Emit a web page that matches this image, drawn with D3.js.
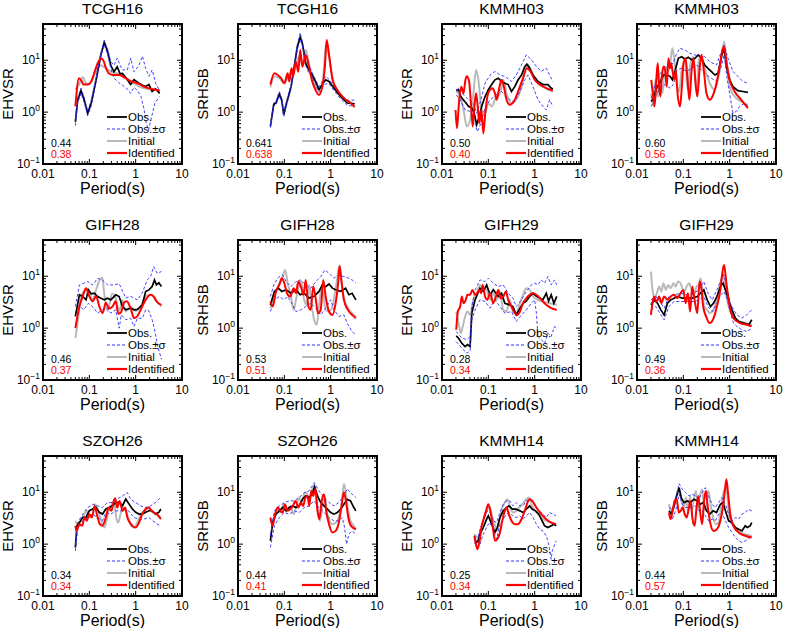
<!DOCTYPE html>
<html><head><meta charset="utf-8">
<script src="https://cdn.jsdelivr.net/npm/d3@7"></script>
<style>
body{margin:0;background:#fff}
svg{display:block}
text{font-family:"Liberation Sans",Arial,Helvetica,sans-serif;fill:#000}
</style>
</head><body>
<svg id="chart" width="785" height="628"></svg>
<script>
// ---------------- DATA ----------------
const stations = ["TCGH16","TCGH16","KMMH03","KMMH03","GIFH28","GIFH28","GIFH29","GIFH29","SZOH26","SZOH26","KMMH14","KMMH14"];
const ratioTypes = ["EHVSR","SRHSB","EHVSR","SRHSB","EHVSR","SRHSB","EHVSR","SRHSB","EHVSR","SRHSB","EHVSR","SRHSB"];
const misfitInitial = ["0.44","0.641","0.50","0.60","0.46","0.53","0.28","0.49","0.34","0.44","0.25","0.44"];
const misfitIdentified = ["0.38","0.638","0.40","0.56","0.37","0.51","0.34","0.36","0.34","0.41","0.34","0.57"];
const legendLabels = ["Obs.","Obs.±σ","Initial","Identified"];
const xTickValues = [0.01,0.1,1,10];
const xTickLabels = ["0.01","0.1","1","10"];
const yTickValues = [0.1,1,10];
const yTickExponents = ["−1","0","1"];
const xDomain = [0.01,10];
const yDomain = [0.1,50];

// Panel 1: TCGH16 EHVSR  [period(s), ratio]
const p1Obs = [[0.05,0.65],[0.056,1.7],[0.066,2.6],[0.078,1.7],[0.092,0.95],[0.11,1.5],[0.14,4.2],[0.178,13],[0.21,22],[0.247,15],[0.29,8],[0.34,6],[0.4,7.5],[0.46,5.5],[0.52,5.6],[0.66,4.2],[0.78,3.4],[0.92,4.2],[1.18,3.6],[1.4,3.3],[1.64,3.1],[1.93,3.4],[2.27,2.5],[2.7,2.8],[3.3,2.3]];
const p1Up = [[0.05,0.75],[0.056,1.9],[0.066,2.9],[0.078,1.9],[0.092,1.05],[0.11,1.7],[0.14,4.6],[0.178,14],[0.21,24],[0.247,17],[0.29,9.5],[0.34,8],[0.4,11],[0.46,8],[0.52,6.5],[0.66,6.5],[0.78,11],[0.92,6],[1.18,8],[1.4,12],[1.64,7],[1.93,4.9],[2.27,6.5],[2.7,3.6],[3.3,2.6]];
const p1Lo = [[0.05,0.55],[0.056,1.5],[0.066,2.3],[0.078,1.5],[0.092,0.85],[0.11,1.3],[0.14,3.8],[0.178,12],[0.21,20],[0.247,13],[0.29,7],[0.34,4.5],[0.4,4],[0.46,3.5],[0.52,3.3],[0.66,2.8],[0.78,2.3],[0.92,3],[1.1,2.6],[1.3,2],[1.5,1.2],[1.7,0.6],[1.9,0.45],[2.2,0.8],[2.6,1.5],[3.3,2]];
const p1Ini = [[0.05,2.7],[0.062,3.6],[0.072,4.7],[0.085,3.6],[0.1,3.4],[0.118,4.5],[0.15,7],[0.178,8],[0.2,7.5],[0.23,7],[0.29,6],[0.4,5.6],[0.56,4.9],[0.8,3.9],[1.2,3.1],[1.8,2.8],[2.5,2.7],[3.3,2.6]];
const p1Idf = [[0.05,1.3],[0.06,4.5],[0.068,4.0],[0.075,3.4],[0.09,3.4],[0.11,3.9],[0.13,6],[0.15,8.6],[0.178,10.8],[0.2,10],[0.23,7],[0.27,5.5],[0.33,5.2],[0.45,5.2],[0.6,4.5],[0.8,3.9],[1.1,3.6],[1.5,3.1],[2.2,2.8],[3.3,2.6]];

// Panel 2: TCGH16 SRHSB
const p2Obs = [[0.05,0.53],[0.059,1.4],[0.066,1.5],[0.078,2.25],[0.088,1.7],[0.097,0.89],[0.114,1.6],[0.14,3.1],[0.164,7.5],[0.19,18],[0.22,28],[0.245,21],[0.29,8.7],[0.34,6.5],[0.4,5.2],[0.47,3.9],[0.56,2.7],[0.66,3.4],[0.78,4.2],[0.92,3.9],[1.18,2.9],[1.64,2.0],[2.27,1.5],[3.3,1.45]];
const p2Up = [[0.05,0.58],[0.059,1.5],[0.066,1.6],[0.078,2.5],[0.088,1.85],[0.097,0.98],[0.114,1.75],[0.14,3.4],[0.164,8.2],[0.19,20],[0.22,34],[0.245,23],[0.29,9.5],[0.34,8],[0.4,5.8],[0.47,4.3],[0.56,3.1],[0.66,3.9],[0.78,4.9],[0.92,4.3],[1.18,3.2],[1.64,2.2],[2.27,1.7],[3.3,1.7]];
const p2Lo = [[0.05,0.5],[0.059,1.3],[0.066,1.4],[0.078,2.05],[0.088,1.55],[0.097,0.82],[0.114,1.45],[0.14,2.8],[0.164,6.8],[0.19,16],[0.22,25],[0.245,19],[0.29,7.8],[0.34,5.6],[0.4,4.6],[0.47,3.5],[0.56,2.4],[0.66,3.0],[0.78,3.5],[0.92,3.5],[1.18,2.6],[1.64,1.8],[2.27,1.35],[3.3,1.3]];
const p2Ini = [[0.05,3.0],[0.061,4.9],[0.078,4.5],[0.1,3.6],[0.118,4.5],[0.139,6],[0.178,8],[0.21,11.7],[0.245,8.7],[0.29,15.7],[0.34,8.7],[0.4,4.5],[0.52,2.9],[0.66,3.4],[0.8,21],[0.92,11.7],[1.1,4.5],[1.5,2.3],[2.5,1.6],[3.3,1.4]];
const p2Idf = [[0.05,3.4],[0.061,5.6],[0.072,5.2],[0.085,4.5],[0.1,3.6],[0.118,5.6],[0.128,3.9],[0.143,7],[0.155,4.9],[0.178,9.3],[0.2,6],[0.22,15.7],[0.245,7.5],[0.29,12.6],[0.34,7.5],[0.4,3.9],[0.47,2.7],[0.56,2.15],[0.66,3.1],[0.75,7.5],[0.82,24.5],[0.92,13],[1.1,4.2],[1.38,2.7],[1.93,1.86],[2.7,1.5],[3.3,1.25]];

// Panel 3: KMMH03 EHVSR
const p3Obs = [[0.0203,2.6],[0.0228,2.7],[0.0255,2.0],[0.0292,1.7],[0.033,1.5],[0.0373,1.3],[0.044,1.2],[0.0494,0.96],[0.056,0.57],[0.064,0.83],[0.072,1.3],[0.085,2.0],[0.1,2.7],[0.118,3.4],[0.139,4.2],[0.164,4.5],[0.193,3.9],[0.227,3.6],[0.268,3.4],[0.316,2.5],[0.372,3.1],[0.44,4.2],[0.52,5.2],[0.61,7.5],[0.68,8.4],[0.78,7.0],[0.92,5.2],[1.18,3.9],[1.5,3.4],[1.93,3.4],[2.27,2.9],[2.47,2.8]];
const p3Up = [[0.0203,2.7],[0.0247,2.9],[0.0292,2.15],[0.0373,1.73],[0.0476,1.49],[0.056,0.95],[0.066,1.49],[0.085,3.6],[0.109,5.2],[0.139,6.1],[0.178,5.2],[0.227,4.9],[0.316,3.9],[0.4,5.2],[0.52,8.1],[0.66,12.7],[0.85,10.2],[1.09,7.6],[1.39,6.1],[1.78,7.0],[2.47,3.9]];
const p3Lo = [[0.0203,2.15],[0.0247,1.73],[0.0316,1.1],[0.0404,1.03],[0.0518,0.6],[0.058,0.42],[0.0686,0.6],[0.085,1.19],[0.109,1.73],[0.139,2.0],[0.178,2.7],[0.227,2.15],[0.29,1.73],[0.372,1.6],[0.48,2.5],[0.61,4.2],[0.72,5.2],[0.92,3.1],[1.18,1.73],[1.5,1.29],[1.78,1.1],[2.1,1.73],[2.47,1.29]];
const p3Ini = [[0.0203,2.5],[0.0247,2.0],[0.0292,1.1],[0.0343,0.53],[0.0404,0.71],[0.0476,2.3],[0.0544,6.5],[0.061,4.2],[0.072,1.1],[0.085,0.96],[0.1,1.49],[0.118,1.29],[0.139,1.73],[0.164,2.0],[0.193,2.9],[0.21,4.2],[0.247,2.3],[0.316,1.49],[0.4,1.73],[0.52,3.1],[0.61,6.1],[0.72,8.1],[0.85,6.1],[1.09,3.9],[1.5,3.1],[2.47,2.5]];
const p3Idf = [[0.0196,1.1],[0.021,0.49],[0.0235,1.73],[0.026,3.1],[0.0292,2.3],[0.0316,3.9],[0.0343,4.9],[0.0385,3.9],[0.0425,1.29],[0.046,0.53],[0.05,1.29],[0.0544,2.3],[0.059,1.29],[0.064,0.61],[0.0708,1.1],[0.078,0.39],[0.086,0.96],[0.097,2.15],[0.109,2.7],[0.124,2.9],[0.139,2.3],[0.151,1.73],[0.169,2.7],[0.193,4.2],[0.217,3.1],[0.247,1.73],[0.29,1.38],[0.355,1.6],[0.44,2.5],[0.56,4.5],[0.68,7.0],[0.81,6.1],[1.0,4.2],[1.28,3.4],[1.78,2.9],[2.47,2.6]];

// Panel 4: KMMH03 SRHSB
const p4Obs = [[0.0203,1.6],[0.0228,1.86],[0.0255,2.7],[0.0292,3.4],[0.033,4.2],[0.0373,5.2],[0.044,5.2],[0.0518,4.9],[0.058,4.2],[0.066,6.1],[0.078,10.9],[0.092,11.7],[0.109,10.5],[0.128,11.4],[0.151,10.2],[0.178,10.9],[0.21,12.7],[0.247,10.9],[0.29,8.1],[0.34,7.0],[0.4,6.1],[0.48,5.2],[0.56,5.6],[0.66,11.7],[0.76,17],[0.85,7.6],[1.0,4.2],[1.18,3.1],[1.5,2.6],[1.93,2.5],[2.47,2.4]];
const p4Up = [[0.0203,1.86],[0.0247,3.4],[0.0316,5.6],[0.0404,7],[0.0518,8.1],[0.061,8.8],[0.072,13.6],[0.085,17],[0.109,15.8],[0.139,13.6],[0.178,12.7],[0.227,11.7],[0.29,11.7],[0.372,9.4],[0.52,8.1],[0.66,14.7],[0.76,19.6],[0.92,10.9],[1.18,6.1],[1.5,4.9],[1.93,3.9],[2.47,3.6]];
const p4Lo = [[0.0203,1.29],[0.0247,2.0],[0.0316,2.9],[0.0404,3.4],[0.0518,2.9],[0.061,3.4],[0.072,6.5],[0.092,7.0],[0.118,6.1],[0.151,7.0],[0.193,8.1],[0.247,6.5],[0.316,5.2],[0.4,4.5],[0.52,3.9],[0.66,7.6],[0.76,12.7],[0.89,4.2],[1.05,1.73],[1.18,0.96],[1.39,1.03],[1.64,1.29],[2.1,1.49],[2.47,1.32]];
const p4Ini = [[0.0203,2.3],[0.0228,1.29],[0.0247,4.2],[0.028,2.0],[0.0316,3.9],[0.0355,2.3],[0.0404,7.6],[0.046,6.1],[0.0518,8.1],[0.058,17],[0.064,10.2],[0.072,3.6],[0.081,2.5],[0.092,6.5],[0.109,9.4],[0.124,2.7],[0.139,7.6],[0.164,11.7],[0.193,2.7],[0.217,10.9],[0.247,10.9],[0.29,7],[0.372,3.6],[0.48,2.7],[0.56,4.2],[0.66,10.9],[0.76,22.9],[0.85,10.2],[1.0,3.1],[1.28,2.0],[1.78,1.6],[2.47,1.38]];
const p4Idf = [[0.0203,4.2],[0.022,2.3],[0.024,1.29],[0.0264,4.9],[0.028,8.8],[0.03,3.1],[0.032,2.0],[0.0343,4.9],[0.0373,7.6],[0.0404,6.5],[0.044,3.1],[0.0476,10.9],[0.0518,7.0],[0.0544,8.8],[0.058,6.5],[0.064,4.2],[0.0686,6.5],[0.0755,2.15],[0.085,1.29],[0.092,2.7],[0.101,8.8],[0.112,10.9],[0.124,3.9],[0.135,1.73],[0.151,6.5],[0.166,10.9],[0.183,3.6],[0.2,2.0],[0.227,7.6],[0.247,12.7],[0.276,6.5],[0.316,2.3],[0.372,1.73],[0.44,2.15],[0.52,3.6],[0.61,7.6],[0.7,15.8],[0.76,18.3],[0.85,9.4],[1.0,4.2],[1.28,2.5],[1.78,1.73],[2.47,1.19]];

// Panel 5: GIFH28 EHVSR
const p5Obs = [[0.05,1.68],[0.061,4.38],[0.072,4.07],[0.085,3.51],[0.095,5.46],[0.109,4.6],[0.128,4.71],[0.151,4.07],[0.178,3.78],[0.21,3.51],[0.247,3.78],[0.29,3.51],[0.372,4.38],[0.44,4.07],[0.52,2.61],[0.61,2.25],[0.78,2.43],[0.92,2.25],[1.09,2.3],[1.39,2.81],[1.64,5.07],[1.93,5.46],[2.27,6.33],[2.55,8.51],[2.8,6.82],[3.16,7.5],[3.6,6.33]];
const p5Up = [[0.05,2.6],[0.061,6.8],[0.072,7.2],[0.093,7.9],[0.117,6.8],[0.151,9.1],[0.19,8.5],[0.247,6.8],[0.34,6.8],[0.44,7.2],[0.61,3.8],[0.78,4.1],[1.09,3.5],[1.39,4.8],[1.78,8.5],[2.1,9.9],[2.45,15.3],[2.9,11.4],[3.6,12.3]];
const p5Lo = [[0.05,1.08],[0.061,2.8],[0.075,2.25],[0.095,3.0],[0.117,2.6],[0.151,1.95],[0.19,2.25],[0.247,2.4],[0.29,1.95],[0.37,2.25],[0.44,1.0],[0.49,1.8],[0.61,1.45],[0.78,1.55],[0.92,1.08],[1.09,1.55],[1.39,1.55],[1.64,2.25],[1.93,2.15],[2.27,1.45],[2.65,0.8],[3.0,0.44],[3.3,0.33],[3.6,0.25]];
const p5Ini = [[0.05,0.64],[0.057,1.45],[0.064,3.5],[0.075,5],[0.095,5.5],[0.117,3.5],[0.14,5.5],[0.165,8.3],[0.19,9.5],[0.21,4.6],[0.247,2.15],[0.31,4.6],[0.37,3.8],[0.44,2.15],[0.52,3.5],[0.61,2.1],[0.78,2.6],[1.0,2.15],[1.28,2.6],[1.64,4.1],[2.1,4.4],[2.7,3.5],[3.6,2.6]];
const p5Idf = [[0.05,1.0],[0.061,2.6],[0.072,4.1],[0.085,5.9],[0.1,4.1],[0.117,3.3],[0.14,4.1],[0.165,2.6],[0.193,1.95],[0.227,3.1],[0.268,2.4],[0.316,2.6],[0.372,3.3],[0.42,1.9],[0.48,2.0],[0.56,3.1],[0.64,3.3],[0.78,2.4],[0.92,1.56],[1.09,1.7],[1.28,2.25],[1.64,3.5],[2.1,4.4],[2.45,4.1],[2.8,3.3],[3.6,2.8]];

// Panel 6: GIFH28 SRHSB
const p6Obs = [[0.05,2.8],[0.061,5.1],[0.074,5.9],[0.088,5.1],[0.109,5.5],[0.139,4.7],[0.178,5.5],[0.22,4.4],[0.268,4.7],[0.34,3.8],[0.44,4.1],[0.56,5.1],[0.66,6.8],[0.78,6.3],[0.92,7.1],[1.09,5.9],[1.28,5.5],[1.64,5.1],[2.1,5.9],[2.47,4.4],[2.9,4.7],[3.5,3.5]];
const p6Up = [[0.05,4.07],[0.061,7.34],[0.078,9.86],[0.092,10.6],[0.109,7.9],[0.139,6.33],[0.178,7.9],[0.227,8.51],[0.29,6.82],[0.372,5.88],[0.48,7.9],[0.61,9.86],[0.75,13.2],[0.92,11.4],[1.18,9.16],[1.5,10.6],[1.93,9.86],[2.47,9.16],[2.9,8.51],[3.5,7.34]];
const p6Lo = [[0.05,2.09],[0.061,3.51],[0.078,4.07],[0.097,3.51],[0.118,4.07],[0.151,2.81],[0.178,2.09],[0.227,2.25],[0.29,2.61],[0.372,3.03],[0.48,2.43],[0.61,1.8],[0.78,2.43],[1.0,3.51],[1.18,2.25],[1.5,1.68],[1.93,1.8],[2.27,1.25],[2.9,0.86],[3.5,0.74]];
const p6Ini = [[0.05,2.43],[0.061,4.07],[0.072,6.33],[0.088,8.51],[0.104,13.2],[0.118,7.34],[0.139,4.07],[0.159,2.25],[0.178,3.51],[0.21,6.82],[0.235,7.9],[0.268,3.51],[0.305,2.81],[0.34,6.82],[0.38,3.26],[0.44,1.45],[0.5,1.16],[0.56,2.61],[0.63,5.88],[0.69,4.71],[0.78,2.25],[0.92,2.09],[1.09,2.61],[1.28,5.88],[1.39,9.16],[1.5,15.3],[1.64,10.6],[1.86,4.38],[2.27,2.61],[2.9,1.94],[3.5,1.68]];
const p6Idf = [[0.05,3.26],[0.056,2.61],[0.066,5.07],[0.078,6.82],[0.088,9.16],[0.1,7.34],[0.114,4.71],[0.134,4.07],[0.159,5.88],[0.178,4.71],[0.2,7.9],[0.227,6.33],[0.26,4.38],[0.29,8.51],[0.33,2.61],[0.372,2.25],[0.42,6.33],[0.48,3.51],[0.53,1.94],[0.61,2.25],[0.69,8.51],[0.78,4.07],[0.92,2.09],[1.09,1.8],[1.28,3.03],[1.45,7.34],[1.56,16],[1.7,8.51],[1.93,3.51],[2.35,2.25],[2.9,1.8],[3.5,1.56]];

// Panel 7: GIFH29 EHVSR
const p7Obs = [[0.0203,0.71],[0.0228,0.64],[0.0268,0.51],[0.0316,0.44],[0.0355,0.48],[0.0404,0.44],[0.044,1.95],[0.0518,3.5],[0.066,5.9],[0.078,5.1],[0.092,6.8],[0.109,4.4],[0.128,5.5],[0.164,4.1],[0.193,4.7],[0.227,3.0],[0.29,2.8],[0.34,2.6],[0.4,1.8],[0.48,2.4],[0.56,3.0],[0.66,3.3],[0.78,4.1],[0.92,4.7],[1.09,4.1],[1.28,3.8],[1.5,3.5],[1.78,4.7],[2.0,3.3],[2.27,4.4],[2.6,3.0],[3.0,4.1]];
const p7Up = [[0.0203,0.86],[0.0268,0.64],[0.0343,0.6],[0.0404,0.69],[0.044,2.61],[0.0518,5.46],[0.066,8.51],[0.085,7.9],[0.1,9.16],[0.128,7.34],[0.164,6.33],[0.21,6.82],[0.268,4.71],[0.34,3.78],[0.4,2.61],[0.52,3.51],[0.66,5.07],[0.85,6.82],[1.0,7.34],[1.18,6.82],[1.39,8.51],[1.64,7.34],[1.93,9.86],[2.27,6.82],[2.68,8.51],[3.0,6.8]];
const p7Lo = [[0.0203,0.55],[0.0268,0.41],[0.0343,0.33],[0.0404,0.36],[0.044,1.45],[0.0518,2.25],[0.066,3.51],[0.085,3.26],[0.109,2.43],[0.139,3.51],[0.178,2.61],[0.227,1.94],[0.316,2.09],[0.4,1.34],[0.52,1.8],[0.66,2.25],[0.85,3.03],[1.0,3.51],[1.09,1.94],[1.18,0.69],[1.39,0.6],[1.64,0.51],[1.93,0.8],[2.27,0.69],[2.68,1.08],[3.0,0.93]];
const p7Ini = [[0.0203,2.09],[0.0228,1.25],[0.0255,0.8],[0.028,1.08],[0.0316,1.68],[0.0355,2.09],[0.0404,1.8],[0.0476,3.51],[0.056,4.71],[0.066,6.82],[0.078,5.88],[0.092,5.46],[0.109,3.51],[0.128,4.71],[0.151,3.51],[0.178,5.07],[0.21,2.25],[0.247,2.09],[0.29,3.51],[0.34,2.09],[0.4,1.94],[0.48,3.03],[0.56,4.38],[0.66,5.88],[0.78,5.46],[0.92,4.07],[1.18,3.51],[1.5,3.26],[2.1,3.03],[3.0,2.81]];
const p7Idf = [[0.0203,0.93],[0.022,2.09],[0.0247,2.61],[0.0268,4.07],[0.0292,3.03],[0.0326,3.51],[0.0355,4.38],[0.0404,4.38],[0.0454,5.46],[0.0518,4.38],[0.058,4.71],[0.064,5.46],[0.0696,4.71],[0.0755,6.82],[0.085,4.07],[0.095,3.51],[0.109,4.71],[0.128,3.03],[0.146,4.07],[0.164,5.46],[0.183,3.78],[0.21,4.07],[0.24,5.07],[0.268,3.51],[0.316,2.61],[0.372,1.94],[0.42,1.8],[0.48,2.09],[0.56,3.03],[0.66,3.78],[0.78,4.38],[0.92,4.71],[1.09,4.38],[1.39,3.51],[1.78,2.81],[2.27,2.43],[3.0,2.25]];

// Panel 8: GIFH29 SRHSB
const p8Obs = [[0.02,2.81],[0.0235,3.51],[0.0277,3.03],[0.0327,2.25],[0.0385,1.8],[0.0454,3.03],[0.0535,3.51],[0.063,3.78],[0.074,4.07],[0.095,3.78],[0.122,3.78],[0.156,3.78],[0.2,4.07],[0.235,4.71],[0.277,5.46],[0.327,3.51],[0.386,2.61],[0.45,3.03],[0.53,4.07],[0.63,6.33],[0.72,7.34],[0.81,5.46],[0.95,3.51],[1.12,2.25],[1.33,1.56],[1.56,1.34],[2.0,1.25],[2.6,1.16],[3.0,1.45]];
const p8Up = [[0.02,3.51],[0.0255,4.07],[0.0327,3.03],[0.0385,2.43],[0.049,4.07],[0.063,4.38],[0.087,4.71],[0.122,4.38],[0.169,4.71],[0.217,5.46],[0.277,7.9],[0.34,4.71],[0.42,3.51],[0.53,5.46],[0.65,8.51],[0.75,10.6],[0.87,6.33],[1.03,3.03],[1.21,2.25],[1.43,1.8],[1.84,1.56],[2.35,1.8],[3.0,2.25]];
const p8Lo = [[0.02,2.25],[0.0255,2.61],[0.0327,1.8],[0.0385,1.45],[0.049,2.61],[0.063,3.26],[0.087,3.26],[0.122,3.26],[0.169,3.26],[0.217,3.51],[0.277,4.07],[0.34,2.61],[0.42,2.09],[0.53,3.03],[0.65,4.38],[0.75,5.07],[0.87,3.78],[1.03,2.09],[1.21,1.25],[1.43,1.08],[1.84,0.93],[2.35,0.86],[3.0,1.0]];
const p8Ini = [[0.02,12.3],[0.0216,5.46],[0.0243,3.78],[0.0268,4.71],[0.03,6.33],[0.0337,5.07],[0.0372,7.34],[0.042,5.46],[0.047,6.82],[0.0535,5.88],[0.061,7.34],[0.0685,6.33],[0.077,7.9],[0.087,7.34],[0.103,5.07],[0.118,6.33],[0.133,7.34],[0.149,5.46],[0.169,4.38],[0.193,6.33],[0.217,6.82],[0.235,9.16],[0.255,5.46],[0.286,2.61],[0.327,2.25],[0.37,1.94],[0.45,2.25],[0.53,3.51],[0.63,7.34],[0.72,11.4],[0.81,5.46],[0.95,2.61],[1.21,1.68],[1.69,1.34],[2.35,1.25],[3.0,1.16]];
const p8Idf = [[0.02,1.8],[0.0216,3.03],[0.0235,4.07],[0.0255,3.26],[0.0277,3.51],[0.03,4.07],[0.0337,3.03],[0.0385,4.07],[0.0454,3.51],[0.0535,4.07],[0.063,4.38],[0.074,3.78],[0.087,4.71],[0.1,5.46],[0.112,3.03],[0.126,4.71],[0.14,2.09],[0.156,6.33],[0.175,3.51],[0.2,1.94],[0.224,7.9],[0.243,6.33],[0.268,2.61],[0.31,1.68],[0.37,1.25],[0.45,1.56],[0.53,2.61],[0.63,5.46],[0.72,14.2],[0.76,16.5],[0.85,7.34],[1.0,2.61],[1.21,1.56],[1.69,1.25],[2.35,1.16],[3.0,1.08]];

// Panel 9: SZOH26 EHVSR
const p9Obs = [[0.05,0.86],[0.054,2.26],[0.061,2.6],[0.072,3.3],[0.085,3.3],[0.1,4.4],[0.118,4.75],[0.139,5.1],[0.164,4.1],[0.193,3.8],[0.227,4.75],[0.268,5.1],[0.316,5.5],[0.372,6.4],[0.44,6.4],[0.52,5.5],[0.61,7.4],[0.72,5.9],[0.85,4.75],[1.0,4.1],[1.18,3.8],[1.39,3.8],[1.64,4.1],[1.93,4.4],[2.27,4.4],[2.68,3.8],[3.16,4.1],[3.5,4.75]];
const p9Up = [[0.05,1.0],[0.056,2.61],[0.072,3.78],[0.092,5.07],[0.118,5.88],[0.151,5.46],[0.193,5.07],[0.247,6.33],[0.316,6.33],[0.4,7.34],[0.52,8.51],[0.66,9.86],[0.78,7.34],[1.0,6.33],[1.28,5.46],[1.64,5.07],[2.1,5.46],[2.68,6.33],[3.16,7.34],[3.5,7.9]];
const p9Lo = [[0.05,0.74],[0.056,1.94],[0.072,2.81],[0.092,3.26],[0.118,3.78],[0.151,3.26],[0.193,2.81],[0.227,4.07],[0.29,3.78],[0.372,4.38],[0.48,4.38],[0.61,5.07],[0.75,4.07],[0.92,3.26],[1.18,3.03],[1.5,3.03],[1.93,3.26],[2.35,2.81],[2.9,2.43],[3.5,2.25]];
const p9Ini = [[0.05,2.81],[0.056,2.43],[0.066,2.81],[0.078,3.78],[0.088,4.38],[0.1,3.26],[0.118,3.78],[0.134,5.88],[0.153,4.38],[0.178,3.03],[0.21,2.09],[0.235,2.81],[0.268,4.71],[0.305,5.88],[0.34,6.82],[0.38,3.26],[0.42,2.61],[0.48,4.07],[0.53,5.07],[0.61,4.38],[0.69,3.26],[0.79,2.25],[0.92,2.09],[1.09,2.61],[1.28,3.78],[1.5,4.38],[1.78,5.07],[2.1,4.38],[2.68,3.78],[3.5,3.26]];
const p9Idf = [[0.05,2.25],[0.053,1.8],[0.061,2.43],[0.07,2.25],[0.079,3.26],[0.088,2.81],[0.1,3.78],[0.114,3.26],[0.13,5.46],[0.148,3.51],[0.169,2.43],[0.193,2.25],[0.227,3.26],[0.26,5.07],[0.3,4.38],[0.33,6.33],[0.36,7.7],[0.4,5.07],[0.45,6.82],[0.52,4.38],[0.59,5.07],[0.66,3.26],[0.75,2.61],[0.85,2.25],[1.0,2.09],[1.18,2.61],[1.39,3.78],[1.64,4.71],[1.93,5.07],[2.2,4.38],[2.47,4.07],[2.9,3.78],[3.5,3.03]];

// Panel 10: SZOH26 SRHSB
const p10Obs = [[0.05,1.16],[0.056,2.61],[0.066,3.78],[0.078,4.38],[0.092,5.07],[0.109,4.38],[0.128,5.07],[0.151,5.46],[0.178,5.07],[0.21,5.46],[0.247,7.34],[0.29,8.51],[0.34,7.9],[0.4,9.16],[0.45,12.8],[0.52,8.51],[0.61,6.33],[0.72,5.46],[0.85,4.71],[1.0,4.07],[1.18,3.78],[1.39,4.07],[1.64,4.71],[1.93,5.88],[2.27,7.34],[2.68,6.82],[3.16,5.07],[3.5,4.38]];
const p10Up = [[0.05,1.45],[0.061,4.38],[0.078,5.46],[0.1,6.33],[0.128,6.82],[0.164,6.82],[0.21,7.9],[0.268,9.86],[0.34,10.6],[0.44,15.3],[0.56,10.6],[0.72,7.9],[0.92,6.33],[1.18,5.46],[1.5,6.33],[1.93,8.51],[2.27,11.6],[2.68,9.86],[3.16,8.51],[3.5,7.9]];
const p10Lo = [[0.05,0.86],[0.061,2.25],[0.078,3.26],[0.1,4.07],[0.128,3.78],[0.164,4.38],[0.21,4.07],[0.268,5.07],[0.34,5.46],[0.44,6.82],[0.56,5.07],[0.72,4.07],[0.92,3.26],[1.18,2.81],[1.5,2.81],[1.78,3.26],[2.0,2.09],[2.2,1.0],[2.47,1.56],[2.9,1.8],[3.5,1.56]];
const p10Ini = [[0.05,2.81],[0.059,3.03],[0.07,4.71],[0.082,4.07],[0.097,5.88],[0.114,4.38],[0.134,5.46],[0.159,3.78],[0.18,5.07],[0.21,7.9],[0.235,6.33],[0.268,9.16],[0.305,9.86],[0.345,6.82],[0.39,10.6],[0.44,13.5],[0.48,7.9],[0.53,4.38],[0.59,2.81],[0.66,5.07],[0.75,7.9],[0.82,4.38],[0.92,3.03],[1.09,2.43],[1.28,2.61],[1.5,3.26],[1.7,5.46],[1.93,14.5],[2.1,10.6],[2.35,5.07],[2.68,2.81],[3.16,2.25],[3.5,1.94]];
const p10Idf = [[0.05,3.26],[0.056,2.25],[0.063,3.78],[0.072,5.07],[0.082,4.38],[0.092,4.07],[0.103,5.88],[0.118,4.38],[0.134,4.71],[0.153,5.46],[0.175,6.82],[0.2,5.07],[0.227,6.33],[0.255,5.46],[0.285,7.9],[0.316,8.51],[0.345,5.46],[0.38,10.6],[0.42,8.51],[0.47,11.6],[0.52,4.38],[0.57,3.03],[0.64,6.82],[0.72,9.16],[0.8,4.38],[0.92,2.43],[1.09,1.68],[1.28,1.8],[1.5,2.61],[1.7,5.07],[1.93,10.0],[2.13,6.82],[2.4,3.26],[2.75,2.25],[3.5,1.94]];

// Panel 11: KMMH14 EHVSR
const p11Obs = [[0.05,1.25],[0.056,1.08],[0.061,1.16],[0.066,1.56],[0.078,2.09],[0.092,3.03],[0.1,3.51],[0.118,2.43],[0.139,1.68],[0.156,2.09],[0.178,3.26],[0.21,4.38],[0.247,5.07],[0.28,5.46],[0.33,4.71],[0.4,4.71],[0.48,4.38],[0.56,4.07],[0.66,4.71],[0.78,5.46],[0.89,4.71],[1.05,4.38],[1.23,3.78],[1.45,2.81],[1.64,2.25],[1.93,2.09],[2.27,2.25],[2.68,2.43],[2.9,2.25]];
const p11Up = [[0.05,1.45],[0.058,1.16],[0.066,1.94],[0.078,2.81],[0.095,4.38],[0.109,4.07],[0.128,2.81],[0.151,2.61],[0.178,4.07],[0.21,5.88],[0.247,6.82],[0.29,6.82],[0.34,5.46],[0.4,6.33],[0.48,5.46],[0.56,5.46],[0.66,6.82],[0.78,7.34],[0.92,6.33],[1.09,5.07],[1.28,4.38],[1.5,3.78],[1.78,3.26],[2.1,4.07],[2.47,3.78],[2.9,3.51]];
const p11Lo = [[0.05,1.08],[0.058,0.86],[0.066,1.0],[0.078,1.56],[0.095,2.25],[0.109,2.61],[0.128,1.8],[0.151,1.25],[0.178,2.43],[0.21,3.03],[0.247,3.78],[0.29,4.07],[0.34,3.51],[0.4,3.26],[0.48,3.51],[0.56,3.03],[0.66,3.51],[0.78,4.07],[0.92,3.26],[1.09,2.43],[1.28,1.94],[1.5,1.8],[1.78,1.45],[2.0,1.0],[2.27,0.51],[2.4,0.74],[2.9,1.16]];
const p11Ini = [[0.05,1.56],[0.058,1.34],[0.066,1.68],[0.078,2.81],[0.092,4.38],[0.105,5.07],[0.12,3.51],[0.139,2.25],[0.156,1.8],[0.178,3.26],[0.2,5.07],[0.227,6.33],[0.255,7.34],[0.29,5.46],[0.34,4.07],[0.4,4.38],[0.49,5.46],[0.58,6.33],[0.66,7.34],[0.75,7.9],[0.89,5.46],[1.09,4.07],[1.39,3.26],[1.78,2.81],[2.27,2.61],[2.9,2.43]];
const p11Idf = [[0.05,1.45],[0.054,1.0],[0.058,0.8],[0.064,1.08],[0.072,2.25],[0.081,3.26],[0.089,4.38],[0.1,5.88],[0.109,4.71],[0.124,2.25],[0.139,1.16],[0.156,1.25],[0.178,1.68],[0.2,2.81],[0.227,4.38],[0.247,5.07],[0.276,3.78],[0.316,2.81],[0.372,2.43],[0.44,2.43],[0.52,3.03],[0.61,4.38],[0.7,6.33],[0.78,7.34],[0.89,6.82],[1.09,5.07],[1.39,3.78],[1.78,3.03],[2.27,2.61],[2.9,2.43]];

// Panel 12: KMMH14 SRHSB
const p12Obs = [[0.049,4.38],[0.055,3.78],[0.063,5.46],[0.072,8.51],[0.081,12.3],[0.09,7.9],[0.103,6.33],[0.122,6.82],[0.143,6.33],[0.169,7.34],[0.2,6.82],[0.235,5.88],[0.268,6.33],[0.316,4.38],[0.372,3.78],[0.44,4.38],[0.52,4.07],[0.63,5.88],[0.72,6.33],[0.81,4.38],[0.95,2.81],[1.12,2.61],[1.33,2.09],[1.56,1.94],[1.84,1.8],[2.17,2.25],[2.4,2.09],[2.76,2.25],[3.0,2.61]];
const p12Up = [[0.049,5.07],[0.058,4.71],[0.068,7.34],[0.081,14.7],[0.095,11.4],[0.112,9.86],[0.133,8.51],[0.156,9.16],[0.183,8.51],[0.217,7.34],[0.255,9.86],[0.3,12.3],[0.35,8.51],[0.42,5.88],[0.49,5.07],[0.58,6.33],[0.68,7.9],[0.81,5.88],[0.95,3.78],[1.12,2.81],[1.33,3.26],[1.56,3.03],[1.84,3.78],[2.17,4.07],[2.55,4.71],[3.0,4.38]];
const p12Lo = [[0.049,3.51],[0.058,3.03],[0.068,4.38],[0.081,9.16],[0.095,5.88],[0.112,5.07],[0.133,5.07],[0.156,5.07],[0.183,5.46],[0.217,4.38],[0.255,4.38],[0.3,3.51],[0.35,2.81],[0.42,3.03],[0.49,2.81],[0.58,3.78],[0.68,4.07],[0.81,2.81],[0.95,2.09],[1.12,1.68],[1.33,1.34],[1.56,1.16],[1.84,1.08],[2.17,1.16],[2.55,1.25],[3.0,1.45]];
const p12Ini = [[0.049,5.88],[0.055,4.38],[0.063,5.46],[0.072,9.16],[0.081,11.4],[0.09,7.34],[0.103,5.07],[0.114,7.9],[0.126,4.38],[0.14,8.51],[0.153,4.38],[0.169,7.34],[0.187,10.6],[0.206,5.07],[0.227,8.51],[0.255,11.4],[0.286,4.71],[0.316,5.88],[0.35,10.6],[0.386,5.88],[0.44,3.26],[0.5,2.43],[0.58,2.61],[0.65,5.07],[0.75,10.6],[0.85,12.3],[0.95,4.38],[1.12,2.43],[1.39,1.94],[1.69,1.68],[2.17,1.56],[3.0,1.45]];
const p12Idf = [[0.049,4.07],[0.053,3.03],[0.059,4.38],[0.065,6.82],[0.072,7.34],[0.08,4.07],[0.088,4.38],[0.097,5.07],[0.107,3.78],[0.118,3.26],[0.13,4.71],[0.143,6.82],[0.158,3.03],[0.175,2.25],[0.193,5.07],[0.21,8.51],[0.227,4.71],[0.255,2.43],[0.28,6.82],[0.305,10.6],[0.335,5.46],[0.386,2.43],[0.45,1.8],[0.53,1.94],[0.63,2.81],[0.72,5.46],[0.78,9.86],[0.85,17.8],[0.92,9.86],[1.03,3.78],[1.21,2.25],[1.56,1.68],[2.17,1.45],[3.0,1.34]];

// --------------- assemble table for drawing ---------------
const panels = [
  [p1Obs,p1Up,p1Lo,p1Ini,p1Idf],[p2Obs,p2Up,p2Lo,p2Ini,p2Idf],
  [p3Obs,p3Up,p3Lo,p3Ini,p3Idf],[p4Obs,p4Up,p4Lo,p4Ini,p4Idf],
  [p5Obs,p5Up,p5Lo,p5Ini,p5Idf],[p6Obs,p6Up,p6Lo,p6Ini,p6Idf],
  [p7Obs,p7Up,p7Lo,p7Ini,p7Idf],[p8Obs,p8Up,p8Lo,p8Ini,p8Idf],
  [p9Obs,p9Up,p9Lo,p9Ini,p9Idf],[p10Obs,p10Up,p10Lo,p10Ini,p10Idf],
  [p11Obs,p11Up,p11Lo,p11Ini,p11Idf],[p12Obs,p12Up,p12Lo,p12Ini,p12Idf]
].map((a,i)=>({station:stations[i],type:ratioTypes[i],obs:a[0],up:a[1],lo:a[2],ini:a[3],idf:a[4],m0:misfitInitial[i],m1:misfitIdentified[i]}));

// ---------------- LAYOUT / STYLE ----------------
const colLeft = [43,238,442,637];
const rowTop = [24,240,456];
const PW = 139, PH = 140;
const C_OBS = "#000", C_SIG = "#2f2fff", C_INI = "#b9b9b9", C_IDF = "#ff0000";

const svg = d3.select("#chart");
svg.append("rect").attr("width",785).attr("height",628).attr("fill","#fff");

const x = d3.scaleLog().domain(xDomain).range([0,PW]);
const y = d3.scaleLog().domain(yDomain).range([PH,0]);
const lineLin = d3.line().x(d=>x(d[0])).y(d=>y(d[1])).curve(d3.curveLinear);
const lineSmooth = d3.line().x(d=>x(d[0])).y(d=>y(d[1])).curve(d3.curveMonotoneX);
const isMajor = v => Math.abs(Math.log10(v)-Math.round(Math.log10(v)))<1e-6;

const defs = svg.append("defs");
defs.append("clipPath").attr("id","plotclip").append("rect").attr("width",PW).attr("height",PH);

panels.forEach((p,i)=>{
  const col=i%4,row=Math.floor(i/4);
  const g = svg.append("g").attr("transform",`translate(${colLeft[col]},${rowTop[row]})`);

  // title
  g.append("text").attr("x",PW/2).attr("y",-10).attr("text-anchor","middle")
    .attr("font-size",15.5).text(p.station);
  // y label
  g.append("text").attr("transform",`translate(-30,${PH/2}) rotate(-90)`)
    .attr("text-anchor","middle").attr("font-size",15).text(p.type);
  // x label
  g.append("text").attr("x",PW/2).attr("y",PH+30).attr("text-anchor","middle")
    .attr("font-size",16).text("Period(s)");

  // curves
  const cg = g.append("g").attr("clip-path","url(#plotclip)");
  cg.append("path").attr("d",lineSmooth(p.ini)).attr("fill","none").attr("stroke",C_INI).attr("stroke-width",2);
  cg.append("path").attr("d",lineLin(p.obs)).attr("fill","none").attr("stroke",C_OBS).attr("stroke-width",1.7);
  cg.append("path").attr("d",lineLin(p.up)).attr("fill","none").attr("stroke",C_SIG).attr("stroke-width",0.9).attr("stroke-dasharray","3,2");
  cg.append("path").attr("d",lineLin(p.lo)).attr("fill","none").attr("stroke",C_SIG).attr("stroke-width",0.9).attr("stroke-dasharray","3,2");
  cg.append("path").attr("d",lineSmooth(p.idf)).attr("fill","none").attr("stroke",C_IDF).attr("stroke-width",2);

  // ticks (inward, all four sides)
  const tg = g.append("g").attr("stroke","#000").attr("stroke-width",1);
  x.ticks().forEach(t=>{
    const L = isMajor(t)?5:3, xx = x(t);
    tg.append("line").attr("x1",xx).attr("x2",xx).attr("y1",PH).attr("y2",PH-L);
    tg.append("line").attr("x1",xx).attr("x2",xx).attr("y1",0).attr("y2",L);
  });
  y.ticks().forEach(t=>{
    const L = isMajor(t)?5:3, yy = y(t);
    tg.append("line").attr("y1",yy).attr("y2",yy).attr("x1",0).attr("x2",L);
    tg.append("line").attr("y1",yy).attr("y2",yy).attr("x1",PW).attr("x2",PW-L);
  });
  // frame
  g.append("rect").attr("width",PW).attr("height",PH).attr("fill","none").attr("stroke","#000").attr("stroke-width",2);

  // x tick labels
  xTickValues.forEach((t,k)=>{
    g.append("text").attr("x",x(t)).attr("y",PH+14).attr("text-anchor","middle")
      .attr("font-size",12).text(xTickLabels[k]);
  });
  // y tick labels 10^n
  yTickValues.forEach((t,k)=>{
    const tx = g.append("text").attr("x",-3).attr("y",y(t)+4).attr("text-anchor","end").attr("font-size",12);
    tx.append("tspan").text("10");
    tx.append("tspan").attr("dy",-5).attr("font-size",8.5).text(yTickExponents[k]);
  });

  // legend
  const lg = g.append("g").attr("transform","translate(64,93)");
  const styles = [
    {c:C_OBS,w:1.8,d:null},{c:C_SIG,w:1,d:"3,2"},{c:C_INI,w:2,d:null},{c:C_IDF,w:2.2,d:null}
  ];
  legendLabels.forEach((lab,k)=>{
    const yy = k*12;
    lg.append("line").attr("x1",0).attr("x2",20).attr("y1",yy).attr("y2",yy)
      .attr("stroke",styles[k].c).attr("stroke-width",styles[k].w).attr("stroke-dasharray",styles[k].d);
    lg.append("text").attr("x",21).attr("y",yy+4).attr("font-size",11.5).text(lab);
  });

  // misfit numbers (initial in black, identified in red)
  g.append("text").attr("x",8).attr("y",122.5).attr("font-size",10.5).text(p.m0);
  g.append("text").attr("x",8).attr("y",134).attr("font-size",10.5).style("fill",C_IDF).text(p.m1);
});
</script>
</body></html>
